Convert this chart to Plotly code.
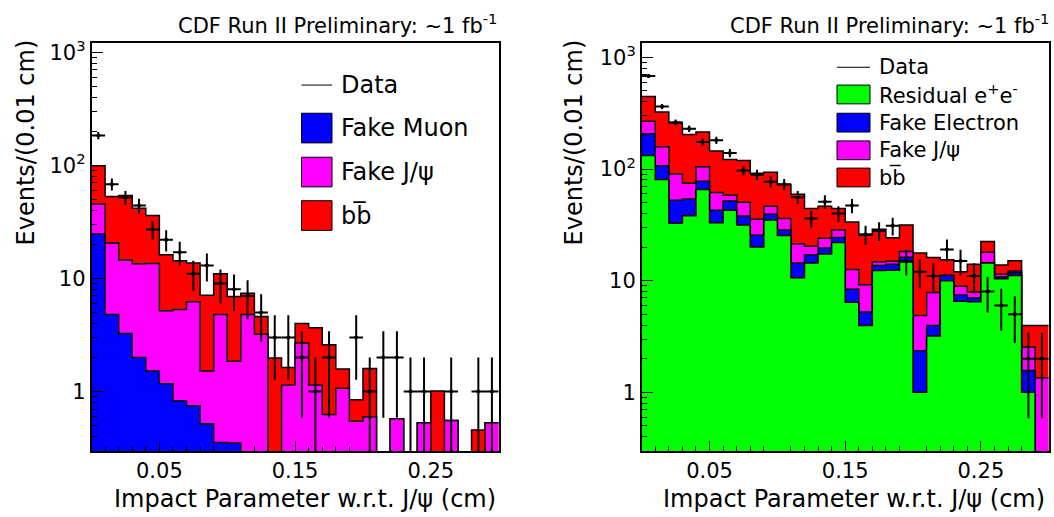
import numpy as np
import plotly.graph_objects as go

# ---------------- data ----------------
bin_edges = [round(0.01 * i, 2) for i in range(31)]          # 0.00 ... 0.30 cm
bin_centers = [round(0.01 * i + 0.005, 3) for i in range(30)]

# left panel (muon channel)
left_data = [183, 68, 52, 44, 27, 22, 17, 11, 13, 9, 8, 7, 5, 3, 3, 2, 1, 2, 0, 3,
             1, 2, 2, 1, 1, 0, 1, 0, 1, 1]
left_fake_muon = [24.7, 4.8, 3.26, 2.0, 1.52, 1.17, 0.83, 0.75, 0.52, 0.355, 0.35, 0, 0, 0, 0,
                  0, 0, 0, 0, 0, 0, 0, 0, 0, 0, 0, 0, 0, 0, 0]
left_fake_jpsi = [20.7, 15.8, 11.3, 11.5, 12.0, 4.0, 4.48, 5.45, 1.0, 4.45, 1.5, 4.8, 3.2, 0, 1.14,
                  2.68, 1.14, 0.625, 1.07, 0.547, 0.597, 0, 0.573, 0, 0.529, 0, 0.554, 0, 0, 0.529]
left_bb = [53.6, 32.4, 39.4, 28.2, 22.4, 11.0, 9.0, 7.5, 5.58, 6.2, 5.05, 2.6, 1.4, 1.98, 0.49,
           1.32, 2.53, 1.97, 0.51, 0.30, 1.0, 0, 0, 0, 0, 1.01, 0, 0, 0.456, 0]

# right panel (electron channel)
right_data = [680, 363, 262, 230, 175, 181, 139, 97, 89, 77, 73, 56, 36, 51, 40, 47, 26, 28, 31, 15,
              12, 11, 19, 15, 11, 8, 6, 5, 2, 2]
right_residual_ee = [132, 80.5, 32.6, 38.1, 65.6, 33.0, 42.8, 31.5, 20.0, 34.9, 25.4, 10.6, 14.4, 17.3,
                     22.0, 6.39, 3.97, 12.3, 12.4, 14.7, 1.0, 3.2, 10.0, 6.55, 6.47, 14.4, 10.4, 11.1,
                     1.0, 0]
right_fake_electron = [75, 26.5, 19.9, 15.8, 12.2, 9.8, 9.0, 6.4, 5.5, 4.5, 3.1, 3.8, 2.7, 2.3, 2.3,
                       1.99, 1.28, 1.4, 1.6, 1.5, 1.35, 0.77, 1.1, 0.9, 0.53, 0.1, 0.4, 0.7, 0.57, 0]
right_fake_jpsi = [61, 51, 37.8, 20.8, 27.2, 18.9, 6.3, 12.5, 9.9, 7.0, 7.6, 7.0, 3.2, 4.4, 4.2, 4.22,
                   3.95, 1.1, 0.9, 2.0, 2.52, 3.86, 0.1, 1.45, 0.9, 3.5, 0.6, 0.4, 0.98, 1.35]
right_bb = [178, 166, 168.7, 129.3, 110, 83.3, 63.9, 68.6, 56.1, 47.1, 36.6, 37.9, 24.0, 22.4, 15.8,
            20.9, 16.3, 14.0, 9.3, 13.3, 12.83, 8.27, 4.2, 3.1, 6.1, 4.4, 2.4, 2.9, 1.42, 2.62]

x_label_vals = [0.05, 0.15, 0.25]
x_label_text = ["0.05", "0.15", "0.25"]
x_long_unlabeled = [0.1, 0.2]
y_tick_vals = [1, 10, 100, 1000]
y_tick_text = ["1", "10", "10<sup>2</sup>", "10<sup>3</sup>"]

RED, MAG, BLUE, GREEN = "#ff0000", "#ff00ff", "#0000ff", "#00ff00"
FONT = "DejaVu Sans"
W, H = 1054, 517
FLOOR = 1e-3  # empty bins drawn below the visible range


def px(x):
    return x / W


def py(y):
    return 1 - y / H


fig = go.Figure()


def add_stack(components, colors, xa, ya):
    cum = np.cumsum(np.array(components, dtype=float), axis=0)
    for i in reversed(range(len(components))):
        y = np.where(cum[i] > 1e-9, cum[i], FLOOR)
        y = np.append(y, y[-1])
        fig.add_trace(go.Scatter(
            x=bin_edges, y=y, mode="lines",
            line=dict(shape="hv", color="black", width=1.5),
            fill="tozeroy", fillcolor=colors[i],
            xaxis=xa, yaxis=ya, showlegend=False, hoverinfo="skip"))


def add_data(counts, xa, ya):
    yv = [c if c > 0 else None for c in counts]
    err = [np.sqrt(c) if c > 0 else 0 for c in counts]
    fig.add_trace(go.Scatter(
        x=bin_centers, y=yv, mode="markers",
        marker=dict(color="black", size=4),
        error_y=dict(type="data", array=err, color="black", thickness=2, width=0),
        error_x=dict(type="data", array=[0.005] * len(counts), color="black", thickness=2, width=0),
        xaxis=xa, yaxis=ya, showlegend=False, hoverinfo="skip"))


add_stack([left_fake_muon, left_fake_jpsi, left_bb], [BLUE, MAG, RED], "x", "y")
add_data(left_data, "x", "y")
add_stack([right_residual_ee, right_fake_electron, right_fake_jpsi, right_bb],
          [GREEN, BLUE, MAG, RED], "x2", "y2")
add_data(right_data, "x2", "y2")

x_minor = [round(0.01 * i, 2) for i in range(1, 30) if i % 5 != 0]
y_minor = [m * 10 ** e for e in range(-1, 3) for m in range(2, 10)]

tickfont = dict(family=FONT, size=21, color="black")


def xaxis_cfg(domain, anchor):
    return dict(domain=domain, anchor=anchor, range=[0, 0.3], showgrid=False, zeroline=False,
                showline=True, mirror=True, linecolor="black", linewidth=1.5,
                ticks="inside", tickmode="array", tickvals=x_label_vals, ticktext=x_label_text,
                ticklen=11, tickwidth=1, tickcolor="black", tickfont=tickfont,
                minor=dict(ticks="inside", tickmode="array", tickvals=x_minor, ticklen=5.5,
                           tickwidth=1, tickcolor="black", showgrid=False))


def xaxis_long_ticks(overlay, anchor, domain):
    # unlabeled long ticks at 0.1 and 0.2
    return dict(overlaying=overlay, anchor=anchor, domain=domain, range=[0, 0.3], side="bottom",
                showgrid=False, zeroline=False, showline=False, ticks="inside",
                tickmode="array", tickvals=x_long_unlabeled, ticklen=11, tickwidth=1,
                tickcolor="black", showticklabels=False)


def yaxis_cfg(domain, anchor, top):
    return dict(domain=domain, anchor=anchor, type="log", range=[np.log10(0.295), np.log10(top)],
                showgrid=False, zeroline=False, showline=True, mirror=True, linecolor="black",
                linewidth=1.5, ticks="inside", tickmode="array", tickvals=y_tick_vals,
                ticktext=y_tick_text, ticklen=12, tickwidth=1, tickcolor="black", tickfont=tickfont,
                minor=dict(ticks="inside", tickmode="array", tickvals=y_minor, ticklen=6,
                           tickwidth=1, tickcolor="black", showgrid=False))


ydom = [py(450.7), py(37.3)]
xdom1 = [px(91.5), px(498.7)]
xdom2 = [px(641.7), px(1048.7)]
fig.update_layout(
    width=W, height=H, margin=dict(l=0, r=0, t=0, b=0),
    paper_bgcolor="white", plot_bgcolor="white", showlegend=False,
    xaxis=xaxis_cfg(xdom1, "y"),
    yaxis=yaxis_cfg(ydom, "x", 1208),
    xaxis2=xaxis_cfg(xdom2, "y2"),
    yaxis2=yaxis_cfg(ydom, "x2", 1349),
    xaxis3=xaxis_long_ticks("x", "y", xdom1),
    xaxis4=xaxis_long_ticks("x2", "y2", xdom2),
)

annotations = []
shapes = []


def text(x, y, s, size, xanchor="left", angle=0):
    annotations.append(dict(x=px(x), y=py(y), xref="paper", yref="paper", text=s, showarrow=False,
                            xanchor=xanchor, yanchor="middle", textangle=angle,
                            font=dict(family=FONT, size=size, color="black")))


title = "CDF Run II Preliminary: ~1 fb<sup>-1</sup>"
text(499, 18, title, 21, "right")
text(1051, 18, title, 21, "right")
xtitle = "Impact Parameter w.r.t. J/ψ (cm)"
text(498, 499, xtitle, 24, "right")
text(1047, 499, xtitle, 24, "right")
ytitle = "Events/(0.01 cm)"
text(26, 138, ytitle, 24, "center", -90)
text(574, 138, ytitle, 24, "center", -90)


def legend(entries, x0, x1, tx, box_h, size):
    for label, color, yc in entries:
        if color is None:
            shapes.append(dict(type="line", xref="paper", yref="paper", x0=px(x0), x1=px(x1),
                               y0=py(yc), y1=py(yc), line=dict(color="black", width=1)))
        else:
            shapes.append(dict(type="rect", xref="paper", yref="paper", x0=px(x0), x1=px(x1),
                               y0=py(yc - box_h / 2), y1=py(yc + box_h / 2),
                               fillcolor=color, line=dict(color="black", width=1)))
        text(tx, yc, label, size)


bbbar = "b" + "b\u0305"
legend([("Data", None, 80), ("Fake Muon", BLUE, 123.5), ("Fake J/ψ", MAG, 168),
        (bbbar, RED, 212)], 301.5, 332, 339, 30, 24)
legend([("Data", None, 62), ("Residual e<sup>+</sup>e<sup>-</sup>", GREEN, 89.5),
        ("Fake Electron", BLUE, 118), ("Fake J/ψ", MAG, 146), (bbbar, RED, 173.5)],
       837, 870, 877, 19, 21)

fig.update_layout(annotations=annotations, shapes=shapes)
fig.write_html("out.html")
